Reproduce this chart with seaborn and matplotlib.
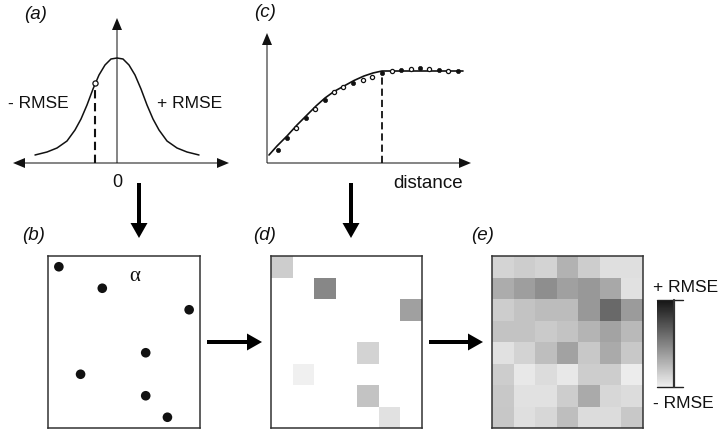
import numpy as np
import pandas as pd
import matplotlib
matplotlib.use("Agg")
import matplotlib.pyplot as plt
import seaborn as sns
from matplotlib.colors import LinearSegmentedColormap

# ---------------- data ----------------
# (a) error distribution (schematic)
err_x = [-82, -70, -60, -50, -42, -36, -30, -24, -18, -12, -6, 0,
         6, 12, 18, 24, 30, 36, 42, 50, 60, 70, 82]
err_density = [8, 11, 15, 22, 33, 44, 58, 74, 88, 98, 104, 105,
               104, 98, 88, 74, 58, 44, 33, 22, 15, 11, 8]
err_sample = (-22, 80)

# (c) semivariogram: fitted model and empirical points
lag_model = [2, 10, 20, 30, 40, 49, 58, 67, 77, 87, 97, 106, 115, 196]
gamma_model = [8, 17, 27, 38, 48, 57, 65, 71.5, 77, 82.5, 87, 90, 92, 92]
lag_emp = [11, 20, 29, 39, 48, 58, 67, 76, 86, 96, 105, 115, 125, 134,
           144, 153, 162, 172, 181, 191]
gamma_emp = [13, 25, 35, 45, 54, 63, 71, 76, 80, 83, 86, 90, 92, 93,
             94, 95, 94, 93, 92, 92]
emp_open = [False, False, True, False, True, False, True, True, False, True,
            True, False, True, False, True, False, True, False, True, False]
range_lag = 115
range_gamma = 92

# (b)/(d) sample locations (grid col/row) and simulated errors (darkness)
sample_col = [0.5, 2.5, 6.5, 4.5, 1.5, 4.5, 5.5]
sample_row = [0.5, 1.5, 2.5, 4.5, 5.5, 6.5, 7.5]
sample_value = [50, 120, 95, 45, 15, 60, 30]

# (e) interpolated error surface (darkness), 8 rows x 7 cols
kriged = [
    [43, 50, 45, 77, 50, 33, 33],
    [83, 97, 113, 95, 103, 87, 30],
    [50, 60, 67, 67, 103, 150, 100],
    [60, 60, 53, 60, 75, 92, 70],
    [30, 45, 65, 93, 55, 85, 55],
    [50, 23, 35, 23, 50, 50, 20],
    [55, 30, 30, 50, 85, 40, 35],
    [57, 33, 40, 65, 35, 35, 55],
]
n_rows, n_cols = 8, 7

# ---------------- figure ----------------
W, H = 722, 430
sns.set_style("white")
plt.rcParams["font.family"] = ["Liberation Sans", "DejaVu Sans"]
fig = plt.figure(figsize=(W / 100, H / 100), dpi=100)


def px_axes(x0, y0, x1, y1):
    return fig.add_axes([x0 / W, 1 - y1 / H, (x1 - x0) / W, (y1 - y0) / H])


def clean(ax):
    ax.set_xticks([])
    ax.set_yticks([])
    ax.set_xlabel("")
    ax.set_ylabel("")


LINE = "#111111"

# ----- (a) -----
ax_a = px_axes(0, 0, 240, 200)
ax_a.set_xlim(-117, 123)
ax_a.set_ylim(-37, 163)
ax_a.axis("off")
sns.lineplot(x=err_x, y=err_density, ax=ax_a, color=LINE, lw=1.1, sort=False)
ax_a.plot([err_sample[0]] * 2, [0, err_sample[1]], ls=(0, (4, 2.2)), color=LINE, lw=1.5)
sns.scatterplot(x=[err_sample[0]], y=[err_sample[1]], ax=ax_a, s=14,
                facecolor="white", edgecolor=LINE, linewidth=0.9, zorder=5)
arr_thin = dict(width=1.0, head_width=10, head_length=12, length_includes_head=True,
                color=LINE, linewidth=0, clip_on=False)
ax_a.arrow(0, 0, -104, 0, **arr_thin)
ax_a.arrow(0, 0, 112, 0, **arr_thin)
ax_a.arrow(0, 0, 0, 145, **arr_thin)

# ----- (c) -----
ax_c = px_axes(240, 0, 490, 200)
ax_c.set_xlim(-27, 223)
ax_c.set_ylim(-37, 163)
ax_c.axis("off")
sns.lineplot(x=lag_model, y=gamma_model, ax=ax_c, color=LINE, lw=1.2, sort=False)
ax_c.plot([range_lag] * 2, [0, range_gamma], ls=(0, (4, 2.2)), color=LINE, lw=1.3)
emp = pd.DataFrame({"lag": lag_emp, "gamma": gamma_emp, "open": emp_open})
sns.scatterplot(data=emp[~emp["open"]], x="lag", y="gamma", ax=ax_c, s=9,
                color=LINE, edgecolor=LINE, linewidth=0.5, zorder=5)
sns.scatterplot(data=emp[emp["open"]], x="lag", y="gamma", ax=ax_c, s=9,
                facecolor="white", edgecolor=LINE, linewidth=0.9, zorder=5)
ax_c.arrow(0, 0, 204, 0, **arr_thin)
ax_c.arrow(0, 0, 0, 130, **arr_thin)
clean(ax_c)

# ----- (b) -----
ax_b = px_axes(48, 256, 200, 428)
sns.scatterplot(x=sample_col, y=sample_row, ax=ax_b, s=48, color=LINE,
                edgecolor="none")
ax_b.set_xlim(0, n_cols)
ax_b.set_ylim(n_rows, 0)
clean(ax_b)
ax_b.text(4.0, 0.95, "α", ha="center", va="center", fontsize=15,
          family=["Liberation Serif", "DejaVu Serif"], color=LINE)

cmap = LinearSegmentedColormap.from_list("errgrey", ["#f0f0f0", "#141414"])
vmin, vmax = 15, 235

# ----- (d) -----
ax_d = px_axes(271, 256, 422, 428)
grid_d = np.full((n_rows, n_cols), np.nan)
for c, r, v in zip(sample_col, sample_row, sample_value):
    grid_d[int(r), int(c)] = v
sns.heatmap(pd.DataFrame(grid_d), ax=ax_d, cmap=cmap, vmin=vmin, vmax=vmax,
            cbar=False, xticklabels=False, yticklabels=False)
clean(ax_d)

# ----- (e) -----
ax_e = px_axes(492, 256, 643, 428)
cax = px_axes(657, 300, 673, 387)
sns.heatmap(pd.DataFrame(kriged), ax=ax_e, cmap=cmap, vmin=vmin, vmax=vmax,
            cbar=True, cbar_ax=cax, xticklabels=False, yticklabels=False)
clean(ax_e)
cbar = ax_e.collections[0].colorbar
cbar.outline.set_visible(False)
cbar.set_ticks([])
cax.tick_params(length=0)

for ax in (ax_b, ax_d, ax_e):
    for s in ax.spines.values():
        s.set_visible(True)
        s.set_color("#333333")
        s.set_linewidth(1.1)

# ----- overlay: arrows, labels -----
ov = fig.add_axes([0, 0, 1, 1])
ov.set_xlim(0, W)
ov.set_ylim(H, 0)
ov.axis("off")
ov.patch.set_visible(False)

arr_thick = dict(width=4, head_width=17, head_length=15, length_includes_head=True,
                 color="black", linewidth=0)
ov.arrow(139, 183, 0, 55, **arr_thick)
ov.arrow(351, 183, 0, 55, **arr_thick)
ov.arrow(207, 342, 55, 0, **arr_thick)
ov.arrow(429, 342, 54, 0, **arr_thick)

# colour bar bracket
ov.plot([657, 683], [300, 300], color="#222222", lw=1.0)
ov.plot([657, 683], [387, 387], color="#222222", lw=1.0)
ov.plot([673.5, 673.5], [300, 387], color="#333333", lw=1.6)

txt = dict(color="#111111")
ov.text(8, 108, "- RMSE", fontsize=12.5, va="baseline", ha="left", **txt)
ov.text(157, 108, "+ RMSE", fontsize=12.5, va="baseline", ha="left", **txt)
ov.text(117, 187, "0", fontsize=13, va="baseline", ha="center", **txt)
ov.text(393, 188, "distance", fontsize=13.5, va="baseline", ha="left", **txt)
ov.text(653, 292, "+ RMSE", fontsize=12.5, va="baseline", ha="left", **txt)
ov.text(653, 408, "- RMSE", fontsize=12.5, va="baseline", ha="left", **txt)

lab = dict(fontsize=13.5, style="italic", va="baseline", ha="left", color="#111111")
ov.text(24, 19, "(a)", **lab)
ov.text(254, 17, "(c)", **lab)
ov.text(22, 240, "(b)", **lab)
ov.text(253, 240, "(d)", **lab)
ov.text(471, 240, "(e)", **lab)

fig.savefig("out.png", dpi=100)
